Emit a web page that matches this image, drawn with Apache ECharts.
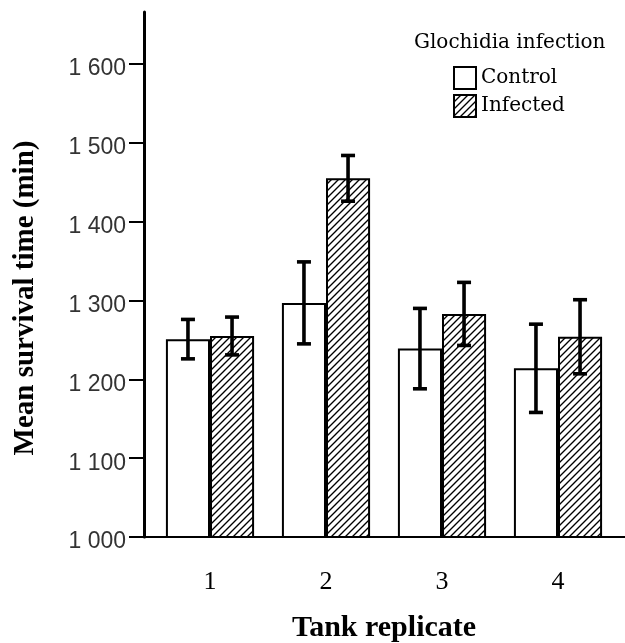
<!DOCTYPE html>
<html>
<head>
<meta charset="utf-8">
<script src="https://cdn.jsdelivr.net/npm/echarts@6/dist/echarts.min.js"></script>
<style>html,body{margin:0;padding:0;background:#fff}#c{width:625px;height:643px}</style>
</head>
<body>
<div id="c"></div>
<script>
// ---- data ----
const categories = ['1', '2', '3', '4'];
const controlMean = [1251, 1297, 1239, 1214];
const controlErr = [25, 52, 51, 56];
const infectedMean = [1255, 1455, 1283, 1254];
const infectedErr = [24, 29, 40, 47];
const yTicks = [1000, 1100, 1200, 1300, 1400, 1500, 1600];
const seriesNames = ['Control', 'Infected'];

function fmt(v) {
  return '{a|' + String(v).replace(/\B(?=(\d{3})+(?!\d))/g, ' ') + '}';
}
function hatch() {
  const s = 7;
  const c = document.createElement('canvas');
  c.width = s; c.height = s;
  const g = c.getContext('2d');
  g.fillStyle = '#fff'; g.fillRect(0, 0, s, s);
  g.strokeStyle = '#000'; g.lineWidth = 1.35;
  g.beginPath();
  g.moveTo(0, s); g.lineTo(s, 0);
  g.moveTo(-1, 1); g.lineTo(1, -1);
  g.moveTo(s - 1, s + 1); g.lineTo(s + 1, s - 1);
  g.stroke();
  return c;
}
const CAT_GAP = 0.24;
function errRenderer(sign) {
  return function (params, api) {
    const i = api.value(0), m = api.value(1), e = api.value(2);
    const band = api.size([1, 0])[0];
    const off = sign * band * (1 - CAT_GAP) / 4;
    const t = api.coord([i, m + e]);
    const b = api.coord([i, m - e]);
    const x = t[0] + off, cap = 7;
    const st = { stroke: '#000', lineWidth: 3.6 };
    return {
      type: 'group',
      children: [
        { type: 'line', shape: { x1: x, y1: t[1], x2: x, y2: b[1] }, style: st },
        { type: 'line', shape: { x1: x - cap, y1: t[1], x2: x + cap, y2: t[1] }, style: st },
        { type: 'line', shape: { x1: x - cap, y1: b[1], x2: x + cap, y2: b[1] }, style: st }
      ]
    };
  };
}

const chart = echarts.init(document.getElementById('c'));
chart.setOption({
  animation: false,
  backgroundColor: '#fff',
  title: {
    text: 'Glochidia infection', left: 414, top: 33, padding: 0,
    textStyle: { fontFamily: 'DejaVu Serif', fontSize: 20, fontWeight: 'normal', color: '#000' }
  },
  legend: {
    data: seriesNames, orient: 'vertical', left: 453, top: 66, padding: 0,
    itemWidth: 22, itemHeight: 22, itemGap: 4, icon: 'rect', selectedMode: false,
    textStyle: { fontFamily: 'DejaVu Serif', fontSize: 20, color: '#000' }
  },
  graphic: [{
    type: 'text', x: 26, y: 298, rotation: Math.PI / 2,
    style: {
      text: 'Mean survival time (min)', font: 'bold 29px "Liberation Serif"',
      fill: '#000', textAlign: 'center', textVerticalAlign: 'middle'
    }
  }],
  grid: [
    { left: 152, right: 9, top: 12, bottom: 106, outerBoundsMode: 'none' },
    { left: 144, right: 0, top: 12, bottom: 106, outerBoundsMode: 'none' }
  ],
  xAxis: [{
    type: 'category', data: categories, gridIndex: 0,
    axisLine: { lineStyle: { color: '#000', width: 2 } },
    axisTick: { alignWithLabel: true, length: 11, lineStyle: { color: '#000', width: 2 } },
    axisLabel: { margin: 32, fontFamily: 'Liberation Serif', fontSize: 26, color: '#000' },
    name: 'Tank replicate', nameLocation: 'middle', nameGap: 76,
    nameTextStyle: { fontFamily: 'Liberation Serif', fontWeight: 'bold', fontSize: 30, color: '#000' }
  }, {
    type: 'value', gridIndex: 1, min: 0, max: 1,
    axisLine: { show: true, lineStyle: { color: '#000', width: 2 } },
    axisTick: { show: false }, axisLabel: { show: false }, splitLine: { show: false }
  }],
  yAxis: [{
    type: 'value', gridIndex: 0, min: 1000, max: 1666, offset: 8,
    axisLine: { show: true, lineStyle: { color: '#000', width: 3 } },
    axisTick: { show: true, length: 15, customValues: yTicks, lineStyle: { color: '#000', width: 2 } },
    axisLabel: {
      customValues: yTicks, margin: 18, formatter: fmt,
      fontFamily: 'Liberation Sans', fontSize: 23, color: '#333',
      rich: { a: { fontFamily: 'Liberation Sans', fontSize: 23, color: '#333', padding: [10, 0, 0, 0] } }
    },
    splitLine: { show: false }
  }, {
    type: 'value', gridIndex: 1, show: false, min: 0, max: 1
  }],
  series: [{
    name: 'Control', type: 'bar', data: controlMean,
    barGap: '0%', barCategoryGap: (CAT_GAP * 100) + '%',
    itemStyle: { color: '#fff', borderColor: '#000', borderWidth: 2 }
  }, {
    name: 'Infected', type: 'bar', data: infectedMean,
    barGap: '0%', barCategoryGap: (CAT_GAP * 100) + '%',
    itemStyle: { color: { image: hatch(), repeat: 'repeat' }, borderColor: '#000', borderWidth: 2 }
  }, {
    type: 'custom', name: 'ctrlErr', z: 5,
    renderItem: errRenderer(-1),
    data: controlMean.map((m, i) => [i, m, controlErr[i]]),
    encode: { x: 0, y: 1 }
  }, {
    type: 'custom', name: 'infErr', z: 5,
    renderItem: errRenderer(1),
    data: infectedMean.map((m, i) => [i, m, infectedErr[i]]),
    encode: { x: 0, y: 1 }
  }]
});
</script>
</body>
</html>
